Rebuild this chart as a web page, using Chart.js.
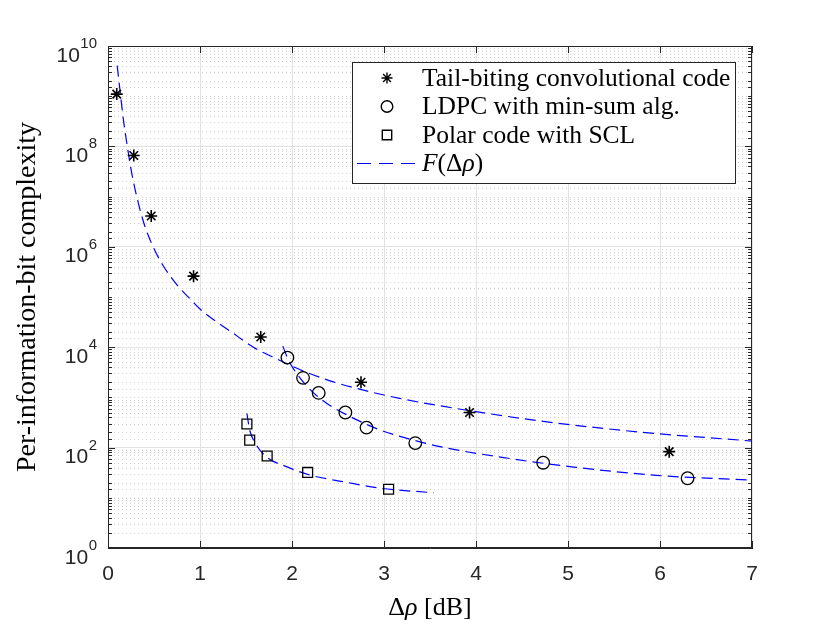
<!DOCTYPE html>
<html>
<head>
<meta charset="utf-8">
<script src="https://cdn.jsdelivr.net/npm/chart.js@4.4.1/dist/chart.umd.min.js"></script>
<style>
  html, body { margin: 0; padding: 0; background: #fff; }
  canvas { display: block; }
</style>
</head>
<body>
<canvas id="myChart" width="830" height="623"></canvas>
<script>
// values
const xTicks = [0, 1, 2, 3, 4, 5, 6, 7];
const yTickExps = [0, 2, 4, 6, 8, 10];

const tbX = [0.095, 0.28, 0.47, 0.93, 1.66, 2.75, 3.93, 6.10];
const tbY = [1.1e9, 6.6e7, 4.1e6, 2.6e5, 1.6e4, 2.0e3, 500, 83];

const ldpcX = [1.95, 2.12, 2.29, 2.58, 2.81, 3.34, 4.73, 6.30];
const ldpcY = [6200, 2450, 1230, 500, 250, 123, 50, 24.5];

const polarX = [1.51, 1.54, 1.73, 2.17, 3.05];
const polarY = [295, 141, 68, 32, 14.8];

// F(Δρ) curves
const fTbX = [0.10, 0.13, 0.17, 0.21, 0.26, 0.33, 0.40, 0.49, 0.60, 0.75, 0.91, 1.00,
              1.36, 1.58, 1.83, 2.09, 2.45, 2.81, 3.17, 3.65, 4.70, 5.78, 7.00];
const fTbY = [4.07e9, 1.32e9, 3.16e8, 1.0e8, 2.8e7, 7.4e6, 2.6e6, 1.0e6, 4.2e5, 1.74e5, 8.5e4, 5.75e4,
              1.9e4, 1.0e4, 5.9e3, 3.55e3, 2.04e3, 1.35e3, 955, 660, 339, 204, 135];

const fLdpcX = [1.90, 1.96, 2.05, 2.20, 2.38, 2.63, 2.96, 3.32, 3.66, 4.33, 5.06, 5.96, 7.00];
const fLdpcY = [1.05e4, 5.6e3, 3.0e3, 1.41e3, 760, 417, 224, 141, 100, 62, 41, 28, 22.4];

const fPolarX = [1.51, 1.54, 1.60, 1.72, 1.94, 2.20, 2.56, 2.96, 3.54];
const fPolarY = [479, 224, 123, 66, 41.7, 28.2, 20.9, 15.5, 12.6];

const legendNames = ['Tail-biting convolutional code', 'LDPC with min-sum alg.', 'Polar code with SCL'];

const SANS = '"Liberation Sans"';
const SERIF = '"Liberation Serif"';
const AXIS_COLOR = '#262626';
const CURVE_BLUE = '#0000ff';

function pts(xs, ys) {
  return xs.map((x, i) => ({ x: x, y: ys[i] }));
}

function isLabelDecade(v) {
  const e = Math.log10(v);
  const r = Math.round(e);
  return Math.abs(e - r) < 1e-6 && r % 2 === 0;
}

// draw a list of text runs with their own fonts
function drawRuns(c, runs, x, y, align) {
  let total = 0;
  runs.forEach(r => { c.font = r.font; r.w = c.measureText(r.t).width; total += r.w; });
  let cx = align === 'center' ? x - total / 2 : x;
  c.textAlign = 'left';
  runs.forEach(r => { c.font = r.font; c.fillText(r.t, cx, y); cx += r.w; });
}

function legendMarker(c, kind, x, y) {
  c.save();
  c.strokeStyle = '#000';
  c.lineWidth = 1.4;
  c.beginPath();
  if (kind === 'star') {
    const r = 5.5, d = r * Math.SQRT1_2;
    c.moveTo(x - r, y); c.lineTo(x + r, y);
    c.moveTo(x, y - r); c.lineTo(x, y + r);
    c.moveTo(x - d, y - d); c.lineTo(x + d, y + d);
    c.moveTo(x - d, y + d); c.lineTo(x + d, y - d);
  } else if (kind === 'circle') {
    c.arc(x, y, 5.8, 0, Math.PI * 2);
  } else if (kind === 'rect') {
    c.rect(x - 4.7, y - 4.7, 9.4, 9.4);
  } else {
    c.strokeStyle = CURVE_BLUE;
    c.lineWidth = 1.2;
    c.setLineDash([14, 8]);
    c.moveTo(357, y); c.lineTo(416, y);
  }
  c.stroke();
  c.restore();
}

const axesDecor = {
  id: 'axesDecor',
  beforeDatasetsDraw(chart) {
    const { ctx: c, chartArea: a, scales: { y } } = chart;
    c.save();
    c.strokeStyle = '#d2d2d2';
    c.lineWidth = 1;
    c.setLineDash([1, 3]);
    y.ticks.forEach(t => {
      if (isLabelDecade(t.value)) return;
      const py = Math.round(y.getPixelForValue(t.value)) + 0.5;
      c.beginPath(); c.moveTo(a.left + 2, py); c.lineTo(a.right, py); c.stroke();
    });
    c.restore();
  },
  afterDraw(chart) {
    const { ctx: c, chartArea: a, scales: { x, y } } = chart;
    c.save();

    // box and inward ticks
    c.strokeStyle = AXIS_COLOR;
    c.lineWidth = 1;
    c.strokeRect(a.left + 0.5, a.top + 0.5, a.right - a.left - 1, a.bottom - a.top - 1);
    c.beginPath();
    y.ticks.forEach(t => {
      const py = Math.round(y.getPixelForValue(t.value)) + 0.5;
      const len = isLabelDecade(t.value) ? 7 : 4;
      c.moveTo(a.left, py); c.lineTo(a.left + len, py);
      c.moveTo(a.right, py); c.lineTo(a.right - len, py);
    });
    xTicks.forEach(v => {
      const px = Math.round(x.getPixelForValue(v)) + 0.5;
      c.moveTo(px, a.bottom); c.lineTo(px, a.bottom - 7);
      c.moveTo(px, a.top); c.lineTo(px, a.top + 7);
    });
    c.stroke();

    // y tick labels 10^k
    c.fillStyle = AXIS_COLOR;
    c.textBaseline = 'alphabetic';
    yTickExps.forEach(k => {
      const py = y.getPixelForValue(Math.pow(10, k));
      const exp = String(k);
      c.font = '15px ' + SANS;
      const we = c.measureText(exp).width;
      c.textAlign = 'left';
      c.fillText(exp, 97 - we, py + 2);
      c.font = '21px ' + SANS;
      c.textAlign = 'right';
      c.fillText('10', 97 - we - 0.5, py + 15.5);
    });

    // axis titles
    c.fillStyle = '#000';
    drawRuns(c, [
      { t: 'Δ', font: '26px ' + SERIF },
      { t: 'ρ', font: 'italic 26px ' + SERIF },
      { t: ' [dB]', font: '26px ' + SERIF }
    ], (a.left + a.right) / 2, 615, 'center');

    c.save();
    c.translate(35, (a.top + a.bottom) / 2);
    c.rotate(-Math.PI / 2);
    c.font = '28px ' + SERIF;
    c.textAlign = 'center';
    c.fillText('Per-information-bit complexity', 0, 0);
    c.restore();

    // legend
    c.fillStyle = '#fff';
    c.fillRect(352, 62, 383, 121);
    c.strokeStyle = AXIS_COLOR;
    c.lineWidth = 1;
    c.strokeRect(352.5, 62.5, 383, 121);
    const rows = [78, 106.5, 135, 163.5];
    const kinds = ['star', 'circle', 'rect', 'line'];
    c.fillStyle = '#000';
    c.textBaseline = 'middle';
    rows.forEach((ry, i) => {
      legendMarker(c, kinds[i], 387, ry);
      if (i < 3) {
        c.font = '25.5px ' + SERIF;
        c.textAlign = 'left';
        c.fillText(legendNames[i], 422, ry + 1);
      } else {
        drawRuns(c, [
          { t: 'F', font: 'italic 25.5px ' + SERIF },
          { t: '(Δ', font: '25.5px ' + SERIF },
          { t: 'ρ', font: 'italic 25.5px ' + SERIF },
          { t: ')', font: '25.5px ' + SERIF }
        ], 422, ry + 1, 'left');
      }
    });
    c.restore();
  }
};

function markerSet(xs, ys, style, r, w) {
  return {
    data: pts(xs, ys),
    showLine: false,
    pointStyle: style,
    pointRadius: r,
    pointBorderColor: '#000',
    pointBackgroundColor: 'rgba(0,0,0,0)',
    pointBorderWidth: w
  };
}

function curveSet(xs, ys) {
  return {
    data: pts(xs, ys),
    showLine: true,
    pointRadius: 0,
    borderColor: CURVE_BLUE,
    borderWidth: 1.2,
    borderDash: [11, 6],
    cubicInterpolationMode: 'monotone',
    fill: false
  };
}

const myChart = new Chart(document.getElementById('myChart').getContext('2d'), {
  type: 'scatter',
  data: {
    datasets: [
      markerSet(tbX, tbY, 'star', 6, 1.6),
      markerSet(ldpcX, ldpcY, 'circle', 6.3, 1.3),
      markerSet(polarX, polarY, 'rect', 7, 1.3),
      curveSet(fTbX, fTbY),
      curveSet(fLdpcX, fLdpcY),
      curveSet(fPolarX, fPolarY)
    ]
  },
  options: {
    responsive: false,
    animation: false,
    devicePixelRatio: 1,
    layout: { padding: { left: 0, top: 46, right: 78, bottom: 0 } },
    plugins: {
      legend: { display: false },
      tooltip: { enabled: false }
    },
    scales: {
      x: {
        type: 'linear',
        min: 0,
        max: 7,
        afterFit: function (scale) { scale.height = 75; },
        ticks: {
          stepSize: 1,
          padding: 14,
          maxRotation: 0,
          color: AXIS_COLOR,
          font: { family: 'Liberation Sans', size: 21 }
        },
        grid: { color: '#e2e2e2', drawTicks: false },
        border: { color: AXIS_COLOR, width: 1 }
      },
      y: {
        type: 'logarithmic',
        min: 1,
        max: 1e10,
        afterFit: function (scale) { scale.width = 108; },
        ticks: { display: false, autoSkip: false },
        grid: {
          drawTicks: false,
          color: function (ctx) {
            return ctx.tick && isLabelDecade(ctx.tick.value) ? '#e2e2e2' : 'rgba(0,0,0,0)';
          }
        },
        border: { color: AXIS_COLOR, width: 1 }
      }
    }
  },
  plugins: [axesDecor]
});
</script>
</body>
</html>
